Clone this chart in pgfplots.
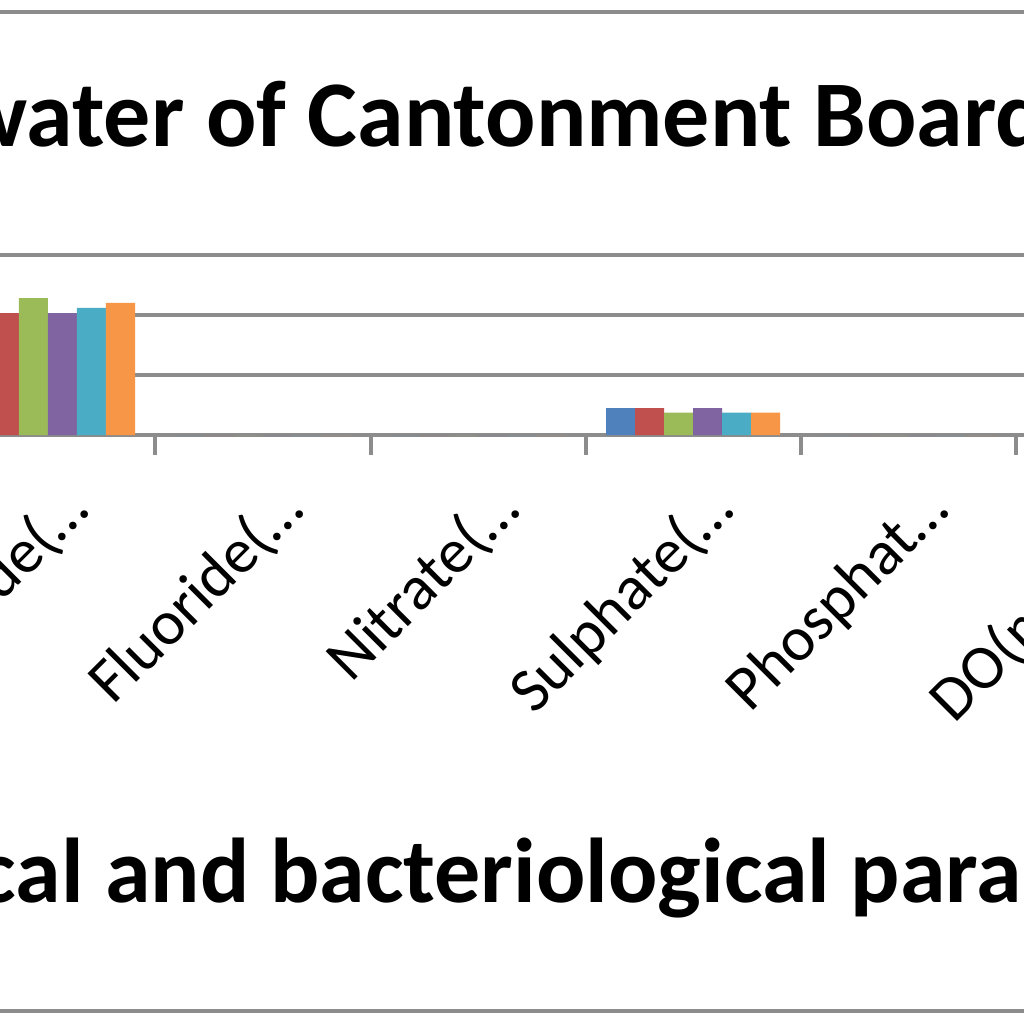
\documentclass[border=0pt]{standalone}
\usepackage{pgfplots}
\pgfplotsset{compat=1.18}
\usepackage{fontspec}
\setmainfont{Carlito}
\definecolor{s1}{HTML}{4F81BD}
\definecolor{s2}{HTML}{C0504D}
\definecolor{s3}{HTML}{9BBB59}
\definecolor{s4}{HTML}{8064A2}
\definecolor{s5}{HTML}{4BACC6}
\definecolor{s6}{HTML}{F79646}
\definecolor{gridgray}{HTML}{8C8C8C}
\begin{document}
\begin{tikzpicture}
\useasboundingbox (0,0) rectangle (512pt,512pt);
\clip (0,0) rectangle (512pt,512pt);
\fill[white] (0,0) rectangle (512pt,512pt);
\draw[gridgray, line width=2pt] (-5pt,506pt) -- (520pt,506pt);
\draw[gridgray, line width=2pt] (-5pt,6.5pt) -- (520pt,6.5pt);
\begin{axis}[
  at={(-137.25pt,294.5pt)}, anchor=south west,
  x=107.5pt, y=0.6pt,
  xmin=-1.5, xmax=6.5, ymin=0, ymax=150,
  axis lines*=left,
  axis line style={gridgray, line width=2pt},
  ytick={0,50,100,150}, yticklabels={},
  ymajorgrids, grid style={gridgray, line width=2pt},
  xtick={0,1,2,3,4,5},
  xticklabels={{Chloride(\ldots},{Fluoride(\ldots},{Nitrate(\ldots},{Sulphate(\ldots},{Phosphat\ldots},{DO(mg/lit\ldots}},
  major tick length=0pt,
  minor xtick={-0.5,0.5,1.5,2.5,3.5,4.5,5.5},
  minor tick length=10pt,
  tick align=outside,
  minor tick style={gridgray, line width=2pt},
  xticklabel style={font=\fontsize{31.5}{31.5}\selectfont, xshift=22pt, yshift=-38.75pt, rotate=45, anchor=base east, inner sep=0pt},
  ybar=0pt, bar width=14.5pt,
]
\addplot[fill=s1, draw=none] coordinates {(0,101) (1,0) (2,0) (3,22.5) (4,0)};
\addplot[fill=s2, draw=none] coordinates {(0,101.5) (1,0) (2,0) (3,22.5) (4,0)};
\addplot[fill=s3, draw=none] coordinates {(0,114) (1,0) (2,0) (3,18.6) (4,0)};
\addplot[fill=s4, draw=none] coordinates {(0,101.5) (1,0) (2,0) (3,22.5) (4,0)};
\addplot[fill=s5, draw=none] coordinates {(0,106) (1,0) (2,0) (3,18.6) (4,0)};
\addplot[fill=s6, draw=none] coordinates {(0,110) (1,0) (2,0) (3,18.6) (4,0)};
\end{axis}
\node[anchor=base west, inner sep=0pt, font=\bfseries\fontsize{47}{47}\selectfont] at (103pt,438.5pt) {of Cantonment Board};
\node[anchor=base east, inner sep=0pt, font=\bfseries\fontsize{47}{47}\selectfont] at (92.5pt,438.5pt) {water};
\node[anchor=base west, inner sep=0pt, font=\bfseries\fontsize{46}{46}\selectfont] at (52.5pt,60.5pt) {and bacteriological parameters};
\node[anchor=base east, inner sep=0pt, font=\bfseries\fontsize{46}{46}\selectfont] at (42pt,60.5pt) {Physico-chemical};
\end{tikzpicture}
\end{document}
